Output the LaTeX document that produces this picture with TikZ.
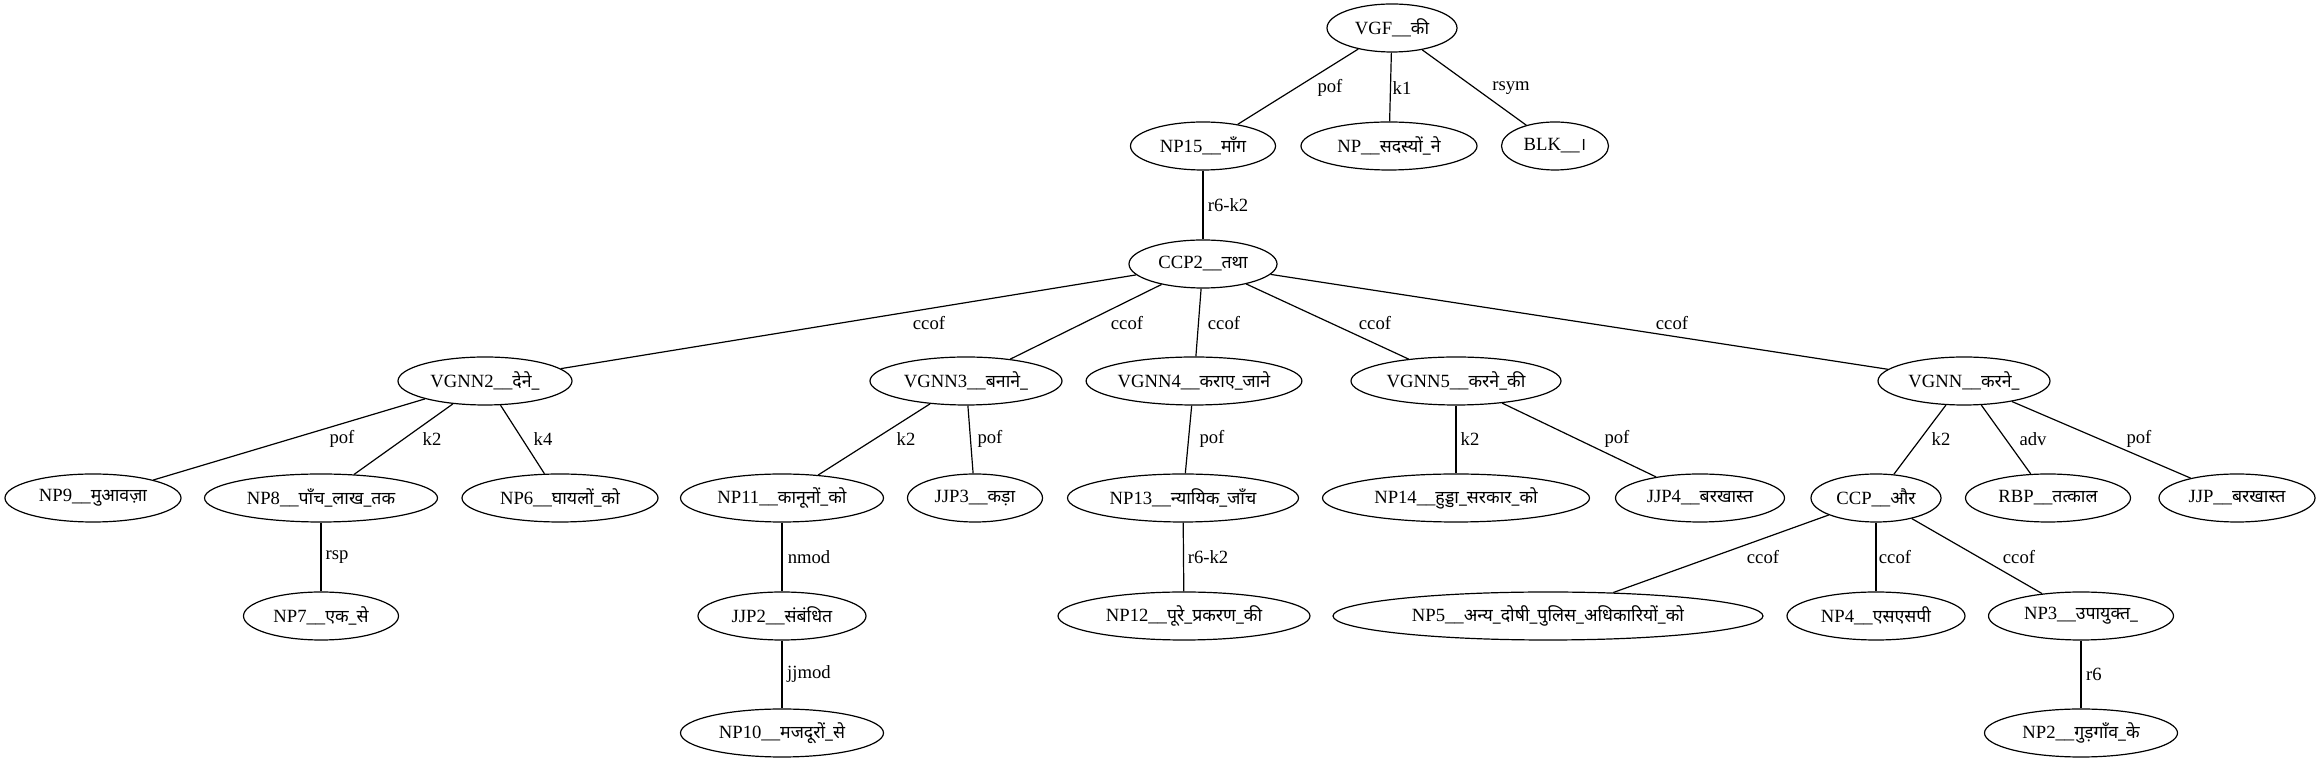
\documentclass[tikz,border=0pt]{standalone}
\usepackage{fontspec}
\setmainfont{Liberation Serif}
\newfontfamily\dv[Script=Devanagari,Scale=0.95]{Noto Sans}
\usetikzlibrary{shapes.geometric}
\newcommand{\tk}[2]{#1\_\_{\dv #2}}

\begin{document}
\begin{tikzpicture}[x=0.5pt, y=-0.5pt, line width=0.6pt,
    tok/.style={draw, ellipse, inner sep=0pt, minimum height=24pt, font=\rmfamily\fontsize{9.33}{11}\selectfont},
    ew/.style={minimum width=#1*0.5pt},
    lbl/.style={inner sep=0pt, font=\rmfamily\fontsize{9.33}{11}\selectfont}]
        \useasboundingbox (0,0) rectangle (2320,763);

        % Gốc và tầng 1
        \node[tok, ew=130] (vgf) at (1392,28) {\tk{VGF}{की}};
        \node[tok, ew=145] (np15) at (1203,146) {\tk{NP15}{माँग}};
        \node[tok, ew=176] (npsad) at (1389,146) {\tk{NP}{सदस्यों\_ने}};
        \node[tok, ew=107] (blk) at (1555,146) {\tk{BLK}{।}};
        \node[tok, ew=148] (ccp2) at (1203,264) {\tk{CCP2}{तथा}};

        % Tầng VGNN
        \node[tok, ew=174] (vgnn2) at (485,381) {\tk{VGNN2}{देने\_}};
        \node[tok, ew=192] (vgnn3) at (966,381) {\tk{VGNN3}{बनाने\_}};
        \node[tok, ew=214] (vgnn4) at (1194,381) {\tk{VGNN4}{कराए\_जाने}};
        \node[tok, ew=210] (vgnn5) at (1456,381) {\tk{VGNN5}{करने\_की}};
        \node[tok, ew=172] (vgnn) at (1964,381) {\tk{VGNN}{करने\_}};

        % Tầng 4
        \node[tok, ew=176] (np9) at (93,498) {\tk{NP9}{मुआवज़ा}};
        \node[tok, ew=233] (np8) at (321,498) {\tk{NP8}{पाँच\_लाख\_तक}};
        \node[tok, ew=196] (np6) at (560,498) {\tk{NP6}{घायलों\_को}};
        \node[tok, ew=203] (np11) at (782,498) {\tk{NP11}{कानूनों\_को}};
        \node[tok, ew=135] (jjp3) at (975,498) {\tk{JJP3}{कड़ा}};
        \node[tok, ew=231] (np13) at (1183,498) {\tk{NP13}{न्यायिक\_जाँच}};
        \node[tok, ew=267] (np14) at (1456,498) {\tk{NP14}{हुड्डा\_सरकार\_को}};
        \node[tok, ew=169] (jjp4) at (1700,498) {\tk{JJP4}{बरखास्त}};
        \node[tok, ew=130] (ccp) at (1876,498) {\tk{CCP}{और}};
        \node[tok, ew=165] (rbp) at (2048,498) {\tk{RBP}{तत्काल}};
        \node[tok, ew=156] (jjp) at (2237,498) {\tk{JJP}{बरखास्त}};

        % Tầng 5 và 6
        \node[tok, ew=155] (np7) at (321,616) {\tk{NP7}{एक\_से}};
        \node[tok, ew=168] (jjp2) at (782,616) {\tk{JJP2}{संबंधित}};
        \node[tok, ew=252] (np12) at (1184,616) {\tk{NP12}{पूरे\_प्रकरण\_की}};
        \node[tok, ew=430] (np5) at (1548,616) {\tk{NP5}{अन्य\_दोषी\_पुलिस\_अधिकारियों\_को}};
        \node[tok, ew=178] (np4) at (1876,616) {\tk{NP4}{एसएसपी}};
        \node[tok, ew=185] (np3) at (2081,616) {\tk{NP3}{उपायुक्त\_}};
        \node[tok, ew=203] (np10) at (782,733) {\tk{NP10}{मजदूरों\_से}};
        \node[tok, ew=193] (np2) at (2081,733) {\tk{NP2}{गुड़गाँव\_के}};

        % Cạnh
        \draw (vgf) -- (np15);
        \draw (vgf) -- (npsad);
        \draw (vgf) -- (blk);
        \draw (np15) -- (ccp2);
        \draw (ccp2) -- (vgnn2);
        \draw (ccp2) -- (vgnn3);
        \draw (ccp2) -- (vgnn4);
        \draw (ccp2) -- (vgnn5);
        \draw (ccp2) -- (vgnn);
        \draw (vgnn2) -- (np9);
        \draw (vgnn2) -- (np8);
        \draw (vgnn2) -- (np6);
        \draw (np8) -- (np7);
        \draw (vgnn3) -- (np11);
        \draw (vgnn3) -- (jjp3);
        \draw (np11) -- (jjp2);
        \draw (jjp2) -- (np10);
        \draw (vgnn4) -- (np13);
        \draw (np13) -- (np12);
        \draw (vgnn5) -- (np14);
        \draw (vgnn5) -- (jjp4);
        \draw (vgnn) -- (ccp);
        \draw (vgnn) -- (rbp);
        \draw (vgnn) -- (jjp);
        \draw (ccp) -- (np5);
        \draw (ccp) -- (np4);
        \draw (ccp) -- (np3);
        \draw (np3) -- (np2);

        % Nhãn cạnh
        \node[lbl] (pof-np15) at (1330,88) {pof};
        \node[lbl] (k1-npsad) at (1402,88) {k1};
        \node[lbl] (rsym-blk) at (1511,88) {rsym};
        \node[lbl] (r6k2-ccp2) at (1228,205) {r6-k2};
        \node[lbl] (ccof-vgnn2) at (929,323) {ccof};
        \node[lbl] (ccof-vgnn3) at (1127,323) {ccof};
        \node[lbl] (ccof-vgnn4) at (1224,323) {ccof};
        \node[lbl] (ccof-vgnn5) at (1375,323) {ccof};
        \node[lbl] (ccof-vgnn) at (1672,323) {ccof};
        \node[lbl] (pof-np9) at (342,439) {pof};
        \node[lbl] (k2-np8) at (432,439) {k2};
        \node[lbl] (k4-np6) at (543,439) {k4};
        \node[lbl] (k2-np11) at (906,439) {k2};
        \node[lbl] (pof-jjp3) at (990,439) {pof};
        \node[lbl] (pof-np13) at (1212,439) {pof};
        \node[lbl] (k2-np14) at (1470,439) {k2};
        \node[lbl] (pof-jjp4) at (1617,439) {pof};
        \node[lbl] (k2-ccp) at (1941,439) {k2};
        \node[lbl] (adv-rbp) at (2033,439) {adv};
        \node[lbl] (pof-jjp) at (2139,439) {pof};
        \node[lbl] (rsp-np7) at (337,557) {rsp};
        \node[lbl] (nmod-jjp2) at (809,557) {nmod};
        \node[lbl] (r6k2-np12) at (1208,557) {r6-k2};
        \node[lbl] (ccof-np5) at (1763,557) {ccof};
        \node[lbl] (ccof-np4) at (1895,557) {ccof};
        \node[lbl] (ccof-np3) at (2019,557) {ccof};
        \node[lbl] (jjmod-np10) at (809,674) {jjmod};
        \node[lbl] (r6-np2) at (2094,674) {r6};
\end{tikzpicture}
\end{document}
